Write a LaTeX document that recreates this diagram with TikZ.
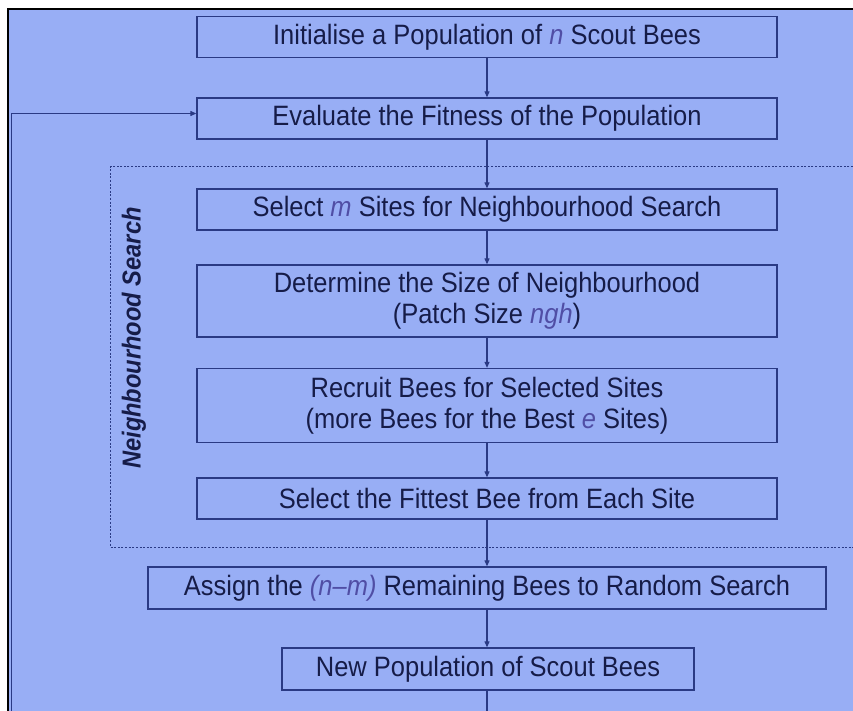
\documentclass[tikz,border=0pt]{standalone}
\usepackage{fontspec}
\setmainfont{Liberation Sans}[FakeStretch=0.91]
\usetikzlibrary{arrows.meta}
\definecolor{bg}{RGB}{152,174,245}
\definecolor{edgec}{RGB}{42,58,132}
\definecolor{txt}{RGB}{22,28,72}
\definecolor{varc}{RGB}{80,78,165}
\newcommand\varx[1]{{\color{varc}\itshape #1}}
\begin{document}
\begin{tikzpicture}[x=1pt,y=-1pt,
  box/.style={draw=edgec, line width=1.3pt, text=txt, font=\fontsize{28}{31}\selectfont,
    inner sep=0pt, align=center, minimum height=41pt},
  ar/.style={draw=edgec, line width=1.1pt, -{Triangle[length=6pt,width=5pt]}},
  ln/.style={draw=edgec, line width=1.1pt},
  dashbox/.style={draw=edgec, line width=0.9pt, dash pattern=on 2pt off 1.6pt}]
\useasboundingbox (0,0) rectangle (853,711);
\fill[white] (0,0) rectangle (853,711);
\fill[bg] (8,9) rectangle (853,711);
\draw[black, line width=2pt] (8,711) -- (8,9.5) -- (853,9.5);

\node[box, minimum width=580pt] (b1) at (487,37) {Initialise a Population of \varx{n} Scout Bees};
\node[box, minimum width=580pt] (b2) at (487,118.5) {Evaluate the Fitness of the Population};
\node[box, minimum width=580pt] (b3) at (487,209.5) {Select \varx{m} Sites for Neighbourhood Search};
\node[box, minimum width=580pt, minimum height=72pt] (b4) at (487,301) {Determine the Size of Neighbourhood\\(Patch Size \varx{ngh})};
\node[box, minimum width=580pt, minimum height=74pt] (b5) at (487,405.5) {Recruit Bees for Selected Sites\\(more Bees for the Best \varx{e} Sites)};
\node[box, minimum width=580pt] (b6) at (487,498.5) {Select the Fittest Bee from Each Site};
\node[box, minimum width=678pt, minimum height=42pt] (b7) at (487,588) {Assign the \varx{(n--m)} Remaining Bees to Random Search};
\node[box, minimum width=412pt, minimum height=42pt] (b8) at (488,669) {New Population of Scout Bees};

\node[rotate=90, text=txt, font=\bfseries\itshape\fontsize{26}{26}\selectfont] (lbl) at (134,338) {Neighbourhood Search};

\draw[dashbox] (853,166.5) -- (110.5,166.5) -- (110.5,547) -- (853,547);

\draw[ar] (b1.south) -- (b2.north);
\draw[ar] (b2.south) -- (b3.north);
\draw[ar] (b3.south) -- (b4.north);
\draw[ar] (b4.south) -- (b5.north);
\draw[ar] (b5.south) -- (b6.north);
\draw[ar] (b6.south) -- (b7.north);
\draw[ar] (b7.south) -- (b8.north -| b7.south);
\coordinate (bot) at (487,711);
\draw[ln] (b8.south -| bot) -- (bot);
\coordinate (ll) at (11.5,711);
\coordinate (lt) at (11.5,113.5);
\draw[ar] (ll) -- (lt) -- (lt -| b2.west);
\end{tikzpicture}
\end{document}
